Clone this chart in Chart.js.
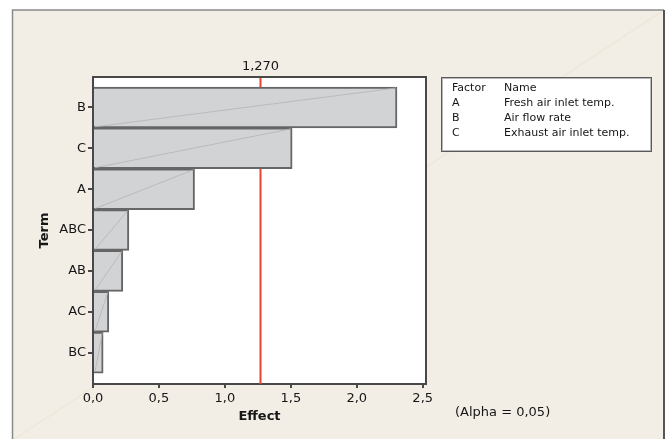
<!DOCTYPE html>
<html>
<head>
<meta charset="utf-8">
<script src="https://cdn.jsdelivr.net/npm/chart.js@4"></script>
<style>
html,body{margin:0;padding:0;background:#fff;}
canvas{display:block;}
</style>
</head>
<body>
<canvas id="ch" width="666" height="439"></canvas>
<script>
// Pareto chart of standardized effects
const TERMS=['B','C','A','ABC','AB','AC','BC'];
const EFFECTS=[2.305,1.51,0.77,0.272,0.226,0.12,0.077];
const X_TICKS=[0,0.5,1,1.5,2,2.5];
const THRESHOLD=1.27;
const THRESHOLD_LABEL='1,270';
const FACTORS=['A','B','C'];
const FACTOR_NAMES=['Fresh air inlet temp.','Air flow rate','Exhaust air inlet temp.'];
const ALPHA_TEXT='(Alpha = 0,05)';

const FONT='"DejaVu Sans", Verdana, sans-serif';
const INK='#161616', AXIS='#484848';

const comma=v=>v.toFixed(1).replace('.',',');

const deco={
  id:'deco',
  beforeDraw(c){
    const {ctx,chartArea:a}=c;
    ctx.save();
    // outer frame
    ctx.fillStyle='#fff';ctx.fillRect(0,0,c.width,c.height);
    ctx.fillStyle='#f2eee6';ctx.fillRect(13,10,651,c.height-10);
    ctx.strokeStyle='rgba(228,220,196,0.35)';ctx.lineWidth=1.5;
    ctx.beginPath();ctx.moveTo(13,440);ctx.lineTo(664,10);ctx.stroke();
    ctx.strokeStyle='#8a8a8a';ctx.lineWidth=1.5;
    ctx.beginPath();ctx.moveTo(12.5,c.height);ctx.lineTo(12.5,10);ctx.lineTo(664,10);ctx.stroke();
    ctx.strokeStyle='#555';ctx.lineWidth=2;
    ctx.beginPath();ctx.moveTo(664,10);ctx.lineTo(664,c.height);ctx.stroke();
    // plot background
    ctx.fillStyle='#fff';ctx.fillRect(a.left,a.top,a.right-a.left,a.bottom-a.top);
    ctx.restore();
  },
  beforeDatasetsDraw(c){
    const {ctx,chartArea:a}=c;
    // critical value line, behind the bars
    const px=c.scales.x.getPixelForValue(THRESHOLD);
    ctx.save();
    ctx.strokeStyle='#e8432e';ctx.lineWidth=2;
    ctx.beginPath();ctx.moveTo(px,a.top);ctx.lineTo(px,a.bottom);ctx.stroke();
    ctx.fillStyle=INK;ctx.font='13px '+FONT;ctx.textAlign='center';ctx.textBaseline='middle';
    ctx.fillText(THRESHOLD_LABEL,px,67);
    ctx.restore();
  },
  afterDatasetsDraw(c){
    const {ctx,chartArea:a}=c;
    ctx.save();
    // faint diagonals inside each bar
    ctx.strokeStyle='rgba(180,180,183,0.8)';ctx.lineWidth=1;
    c.getDatasetMeta(0).data.forEach(b=>{
      const h=b.height/2;
      ctx.beginPath();ctx.moveTo(b.base+1,b.y+h-1);ctx.lineTo(b.x-1,b.y-h+1);ctx.stroke();
    });
    // plot box top/right
    ctx.strokeStyle=AXIS;ctx.lineWidth=2;
    ctx.beginPath();ctx.moveTo(a.left,a.top);ctx.lineTo(a.right,a.top);ctx.lineTo(a.right,a.bottom);ctx.stroke();
    // factor table
    ctx.fillStyle='#fff';ctx.fillRect(441,77,211,75);
    ctx.strokeStyle='#5a5a5a';ctx.lineWidth=1;ctx.strokeRect(441.5,77.5,210,74);
    ctx.strokeStyle='#b8b8b8';ctx.strokeRect(442.5,78.5,208,72);
    ctx.fillStyle=INK;ctx.font='11px '+FONT;ctx.textAlign='left';ctx.textBaseline='middle';
    ctx.fillText('Factor',452,88);ctx.fillText('Name',504,88);
    FACTORS.forEach((f,i)=>{
      ctx.fillText(f,452,103+i*15.2);
      ctx.fillText(FACTOR_NAMES[i],504,103+i*15.2);
    });
    ctx.font='13px '+FONT;
    ctx.fillText(ALPHA_TEXT,455,413);
    ctx.restore();
  }
};

new Chart(document.getElementById('ch'),{
  type:'bar',
  data:{datasets:[{
    data:TERMS.map((t,i)=>({x:EFFECTS[i],y:i})),
    backgroundColor:'#d2d3d5',
    borderColor:'#666666',
    borderWidth:2,
    categoryPercentage:1,
    barPercentage:1
  }]},
  options:{
    indexAxis:'y',
    responsive:false,
    animation:false,
    events:[],
    layout:{padding:{left:0,top:77,right:240,bottom:0}},
    plugins:{legend:{display:false},tooltip:{enabled:false}},
    scales:{
      x:{
        type:'linear',min:0,max:2.525,
        afterFit:s=>{s.height=55;},
        afterBuildTicks:s=>{s.ticks=X_TICKS.map(v=>({value:v}));},
        ticks:{callback:v=>comma(v),color:INK,font:{family:FONT,size:13},padding:3,maxRotation:0},
        grid:{drawOnChartArea:false,drawTicks:true,tickLength:4,color:AXIS,lineWidth:2},
        border:{display:true,color:AXIS,width:2},
        title:{display:true,text:'Effect',color:INK,font:{family:FONT,size:13,weight:'bold'},padding:{top:0,bottom:15}}
      },
      y:{
        type:'linear',reverse:true,min:-0.744,max:6.768,offset:false,
        afterFit:s=>{s.width=93;},
        afterBuildTicks:s=>{s.ticks=TERMS.map((t,i)=>({value:i}));},
        ticks:{callback:v=>TERMS[v],color:INK,font:{family:FONT,size:13},padding:2},
        grid:{offset:false,drawOnChartArea:false,drawTicks:true,tickLength:5,color:AXIS,lineWidth:2},
        border:{display:true,color:AXIS,width:2},
        title:{display:true,text:'Term',color:INK,font:{family:FONT,size:13,weight:'bold'},padding:{top:37,bottom:0}}
      }
    }
  },
  plugins:[deco]
});
</script>
</body>
</html>
